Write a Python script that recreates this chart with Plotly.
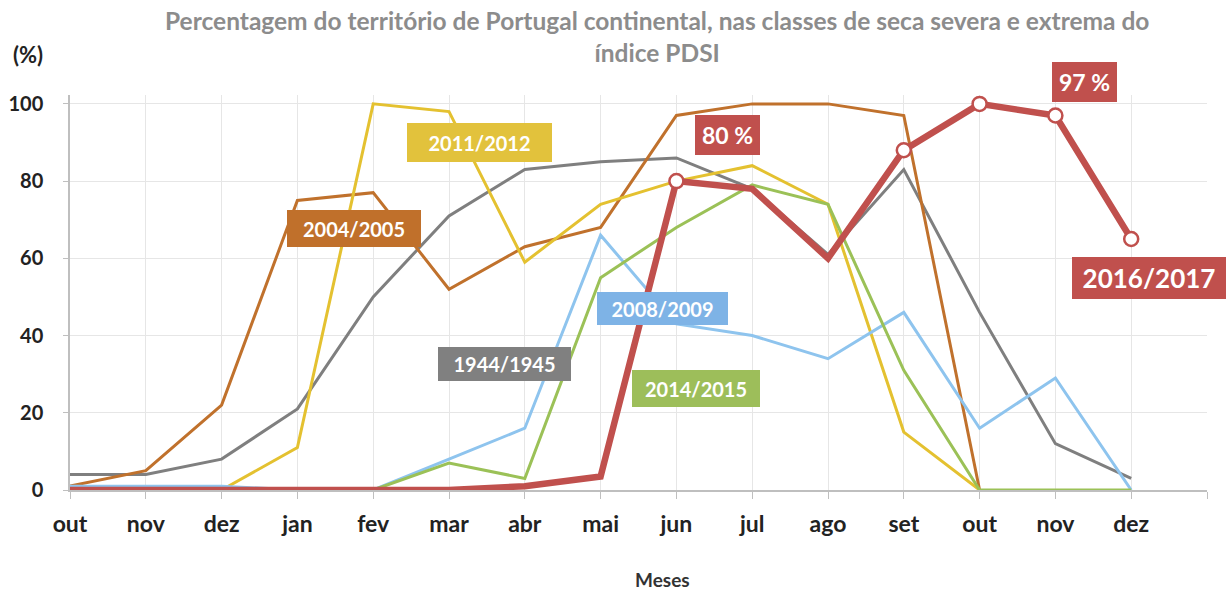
import plotly.graph_objects as go

# Months of the hydrological year (out -> dez of the following year)
months = ["out", "nov", "dez", "jan", "fev", "mar", "abr", "mai",
          "jun", "jul", "ago", "set", "out", "nov", "dez"]

# % of mainland Portugal in severe + extreme PDSI drought classes
y_1944_1945 = [4, 4, 8, 21, 50, 71, 83, 85, 86, 78, 61, 83, 46, 12, 3]
y_2004_2005 = [1, 5, 22, 75, 77, 52, 63, 68, 97, 100, 100, 97, 0]
y_2011_2012 = [0, 0, 0, 11, 100, 98, 59, 74, 80, 84, 74, 15, 0]
y_2008_2009 = [1, 1, 1, 0, 0, 8, 16, 66, 43, 40, 34, 46, 16, 29, 0]
y_2014_2015 = [None, None, None, None, 0, 7, 3, 55, 68, 79, 74, 31, 0, 0, 0]
y_2016_2017 = [0, 0, 0, 0, 0, 0, 1, 3.5, 80, 78, 60, 88, 100, 97, 65]

# points of 2016/2017 highlighted with hollow markers
marked_idx = [8, 11, 12, 13, 14]

series = [
    ("1944/1945", y_1944_1945, "#7F7F7F", 3),
    ("2004/2005", y_2004_2005, "#C0712C", 3),
    ("2011/2012", y_2011_2012, "#E4C130", 3),
    ("2008/2009", y_2008_2009, "#8EC4EE", 3),
    ("2014/2015", y_2014_2015, "#9BC157", 3),
]

FONT = "Lato"
RED = "#C0504D"

# plot-area geometry (pixels) used to place labels
L, R, T, B = 70, 1207, 95, 490
X_MAX, Y_MAX = 15, 102.3


def px_to_paper(px, py):
    return ((px - L) / (R - L), (B - py) / (B - T))


fig = go.Figure()
for name, vals, color, width in series:
    fig.add_trace(go.Scatter(
        x=list(range(len(vals))), y=vals, mode="lines", name=name,
        line=dict(color=color, width=width), connectgaps=False,
        hoverinfo="skip"))

fig.add_trace(go.Scatter(
    x=list(range(len(y_2016_2017))), y=y_2016_2017, mode="lines",
    name="2016/2017", line=dict(color=RED, width=6.5), hoverinfo="skip"))
fig.add_trace(go.Scatter(
    x=marked_idx, y=[y_2016_2017[i] for i in marked_idx], mode="markers",
    marker=dict(size=14, color="white", line=dict(color=RED, width=2.5)),
    showlegend=False, cliponaxis=False, hoverinfo="skip"))


def label(text, cx, cy, size, color, **kw):
    x, y = px_to_paper(cx, cy)
    fig.add_annotation(
        x=x, y=y, xref="paper", yref="paper", text=text, showarrow=False,
        font=dict(family=FONT, size=size, color=color),
        xanchor="center", yanchor="middle", **kw)


def box(text, cx, cy, w, h, bg, size=20):
    label(f"<b>{text}</b>", cx, cy, size, "white",
          bgcolor=bg, borderpad=0, borderwidth=0, width=w, height=h,
          valign="middle")


box("2011/2012", 479.5, 142.5, 145, 39, "#E2C23C")
box("2004/2005", 354, 228.5, 134, 37, "#C0702B")
box("80 %", 727.5, 135, 65, 40, RED, size=23)
box("97 %", 1084.5, 82, 65, 40, RED, size=23)
box("2016/2017", 1149, 278, 154, 42, RED, size=26)
box("2008/2009", 662.5, 308.5, 131, 33, "#7EB3E6")
box("1944/1945", 504.5, 364, 133, 34, "#808080")
box("2014/2015", 696, 388.5, 128, 37, "#9DBE5A")

# chart title, y-axis unit label and x-axis title
label("<b>Percentagem do território de Portugal continental, nas classes de seca severa e extrema do<br>índice PDSI</b>",
      657, 36, 24.5, "#8C8C8C", align="center")
label("<b>(%)</b>", 28, 55, 22, "#222")
label("<b>Meses</b>", 662, 579, 19, "#333")

fig.update_layout(
    width=1227, height=592,
    margin=dict(l=L, r=1227 - R, t=T, b=592 - B),
    paper_bgcolor="white", plot_bgcolor="white",
    showlegend=False,
    xaxis=dict(
        range=[0, X_MAX], tickmode="array", tickvals=list(range(16)),
        ticktext=[f"<b>{m}</b>" for m in months] + [""],
        showgrid=True, gridcolor="#E6E6E6", gridwidth=1,
        showline=True, linecolor="#BFBFBF", linewidth=1.5,
        ticks="outside", ticklen=7, tickcolor="#BFBFBF",
        ticklabelstandoff=6, automargin=False,
        tickfont=dict(family=FONT, size=23, color="#222"), zeroline=False),
    yaxis=dict(
        range=[0, Y_MAX], tickvals=[0, 20, 40, 60, 80, 100],
        ticktext=["<b>0</b>", "<b>20</b>", "<b>40</b>", "<b>60</b>",
                  "<b>80</b>", "<b>100</b>"],
        showgrid=True, gridcolor="#E6E6E6", gridwidth=1,
        showline=True, linecolor="#BFBFBF", linewidth=1.5,
        ticks="outside", ticklen=5, tickcolor="#BFBFBF",
        ticklabelstandoff=16, automargin=False,
        tickfont=dict(family=FONT, size=20, color="#222"), zeroline=False),
)

fig.write_html("out.html")
